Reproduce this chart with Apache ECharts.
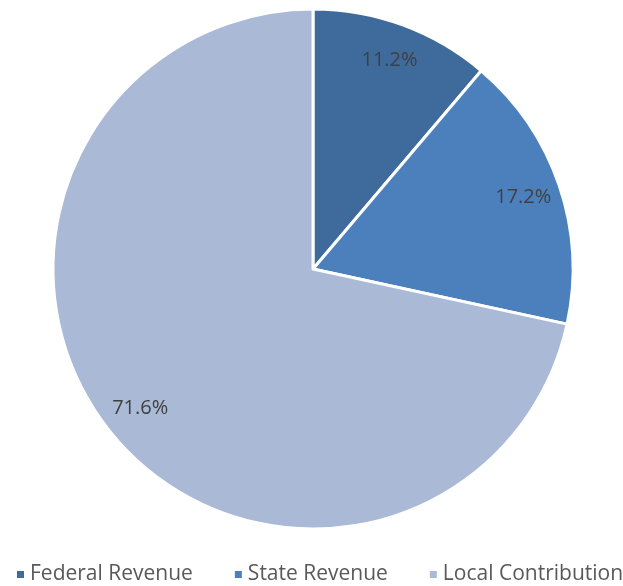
<!DOCTYPE html>
<html>
<head>
<meta charset="utf-8">
<script src="https://cdn.jsdelivr.net/npm/echarts@6/dist/echarts.min.js"></script>
<style>
html, body { margin: 0; padding: 0; background: #fff; }
#main { width: 623px; height: 586px; }
</style>
</head>
<body>
<div id="main"></div>
<script>
var categories = ['Federal Revenue', 'State Revenue', 'Local Contribution'];
var values = [11.2, 17.2, 71.6];
var colors = ['#3e6a9c', '#4c80bd', '#a9b9d6'];

var myChart = echarts.init(document.getElementById('main'));

var pieData = categories.map(function (c, i) {
    return { name: c, value: values[i], itemStyle: { color: colors[i] } };
});

var option = {
    animation: false,
    legend: {
        bottom: -4,
        left: 10,
        width: 640,
        padding: [5, 0, 5, 5],
        itemWidth: 9,
        itemHeight: 9,
        itemGap: 40,
        icon: 'rect',
        textStyle: { color: '#595959', fontSize: 21, fontFamily: 'Open Sans' },
        data: categories
    },
    series: [
        {
            type: 'pie',
            center: [313, 269],
            radius: ['0%', 260],
            startAngle: 90,
            clockwise: true,
            label: { show: false },
            itemStyle: { borderColor: '#fff', borderWidth: 3 },
            data: pieData
        },
        {
            // transparent ring used only to place the labels
            type: 'pie',
            center: [313, 269],
            radius: [178, 260],
            startAngle: 90,
            clockwise: true,
            silent: true,
            legendHoverLink: false,
            itemStyle: { color: 'transparent', borderWidth: 0 },
            label: {
                show: true,
                position: 'inside',
                formatter: function (p) { return p.value.toFixed(1) + '%'; },
                color: '#404040',
                fontSize: 20,
                fontFamily: 'Open Sans'
            },
            data: values.map(function (v, i) { return { name: categories[i] + ' ', value: v }; })
        }
    ]
};

myChart.setOption(option);
</script>
</body>
</html>
